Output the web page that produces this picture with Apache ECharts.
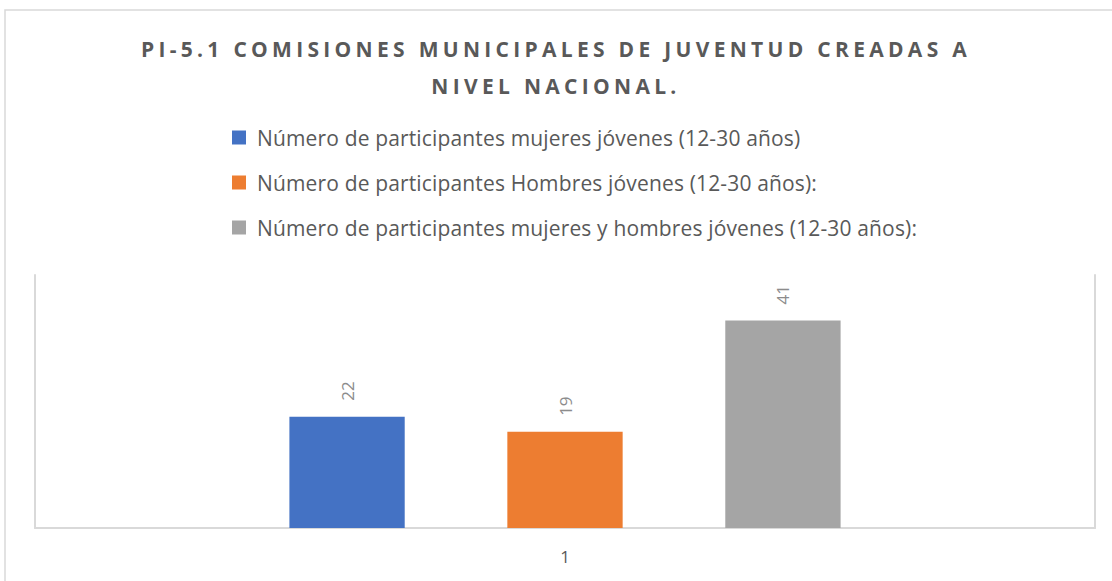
<!DOCTYPE html>
<html><head><meta charset="utf-8">
<script src="https://cdn.jsdelivr.net/npm/echarts@6/dist/echarts.min.js"></script>
<style>
html,body{margin:0;padding:0;background:#fff}
#main{width:1112px;height:581px}
#main text[style*="bold"]{letter-spacing:4.3px}
#main text[style*="LegendFace"]{letter-spacing:0.15px}
</style></head><body><div id="main"></div>
<script>
const titleText = 'PI-5.1 COMISIONES MUNICIPALES DE JUVENTUD CREADAS A\nNIVEL NACIONAL.';
const categories = ['1'];
const seriesNames = [
  'Número de participantes mujeres jóvenes (12-30 años)',
  'Número de participantes Hombres jóvenes (12-30 años):',
  'Número de participantes mujeres y hombres jóvenes (12-30 años):'
];
const mujeres = [22];
const hombres = [19];
const total = [41];
const seriesValues = [mujeres, hombres, total];
const seriesColors = ['#4472C4', '#ED7D31', '#A5A5A5'];
const yMax = 50;

const chart = echarts.init(document.getElementById('main'), null, {renderer: 'svg'});
const font = "'Open Sans', 'Noto Sans', sans-serif";
chart.setOption({
  backgroundColor: '#ffffff',
  animation: false,
  title: {
    text: titleText,
    left: 'center',
    top: 30,
    padding: [0, 0, 0, 26],
    textStyle: {fontFamily: font, fontWeight: 'bold', fontSize: 21, color: '#595959', lineHeight: 37}
  },
  legend: {
    orient: 'vertical',
    left: 232,
    top: 127,
    padding: 0,
    itemWidth: 14,
    itemHeight: 14,
    itemGap: 24,
    icon: 'rect',
    textStyle: {fontFamily: "'Open Sans', LegendFace, sans-serif", fontSize: 21, color: '#595959', padding: [0, 0, 0, 6]},
    data: seriesNames
  },
  graphic: [{
    type: 'rect', silent: true, z: -1,
    shape: {x: 5, y: 10, width: 1200, height: 700},
    style: {fill: 'none', stroke: '#d9d9d9', lineWidth: 1.5}
  }],
  grid: {left: 35, right: 17, top: 275, bottom: 53, containLabel: false},
  xAxis: {
    type: 'category',
    data: categories,
    axisLine: {show: true, lineStyle: {color: '#d9d9d9', width: 2}},
    axisTick: {show: false},
    axisLabel: {fontFamily: font, fontSize: 17, color: '#595959', margin: 20}
  },
  yAxis: [
    {type: 'value', min: 0, max: yMax, position: 'left',
     axisLine: {show: true, lineStyle: {color: '#d9d9d9', width: 2}},
     axisLabel: {show: false}, axisTick: {show: false}, splitLine: {show: false}},
    {type: 'value', min: 0, max: yMax, position: 'right',
     axisLine: {show: true, lineStyle: {color: '#d9d9d9', width: 2}},
     axisLabel: {show: false}, axisTick: {show: false}, splitLine: {show: false}}
  ],
  series: seriesNames.map((name, i) => ({
    name: name,
    type: 'bar',
    data: seriesValues[i],
    itemStyle: {color: seriesColors[i]},
    barGap: '89%',
    barCategoryGap: '48%',
    label: {
      show: true, position: 'top', rotate: 90, distance: 16,
      align: 'left', verticalAlign: 'middle',
      fontFamily: font, fontSize: 17, color: '#8c8c8c'
    }
  }))
});
</script></body></html>
